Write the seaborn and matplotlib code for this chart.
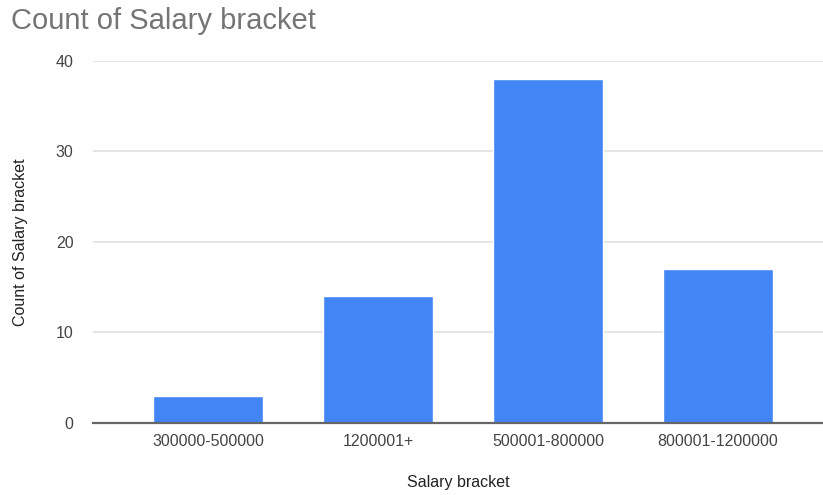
import matplotlib
matplotlib.use("Agg")
import matplotlib.pyplot as plt
import seaborn as sns
import pandas as pd

categories = ["300000-500000", "1200001+", "500001-800000", "800001-1200000"]
counts = [3, 14, 38, 17]
y_ticks = [0, 10, 20, 30, 40]

df = pd.DataFrame({"Salary bracket": categories, "Count": counts})

sns.set_theme(style="white")
plt.rcParams["font.family"] = ["Liberation Sans", "DejaVu Sans"]

fig = plt.figure(figsize=(8.23, 4.95), dpi=100)
ax = fig.add_axes([0.113, 0.1455, 0.887, 0.7313])

sns.barplot(data=df, x="Salary bracket", y="Count", color="#4285F4",
            saturation=1, width=0.647, ax=ax, zorder=3)

ax.set_ylim(0, 40)
ax.set_xlim(-0.676, 3.618)
ax.set_yticks(y_ticks)
ax.yaxis.grid(True, color="#e0e0e0", linewidth=1.2, zorder=0)
ax.xaxis.grid(False)
for s in ["top", "right", "left"]:
    ax.spines[s].set_visible(False)
ax.spines["bottom"].set_color("#666666")
ax.spines["bottom"].set_linewidth(1.6)
ax.spines["bottom"].set_zorder(4)
ax.tick_params(axis="both", length=0, labelsize=11.5, labelcolor="#444444")
ax.tick_params(axis="y", pad=14)
ax.tick_params(axis="x", pad=8)

ax.set_xlabel("Salary bracket", fontsize=11.5, color="#222222", labelpad=19)
ax.set_ylabel("Count of Salary bracket", fontsize=11.5, color="#222222", labelpad=20)

fig.text(0.013, 0.957, "Count of Salary bracket", fontsize=21, color="#757575",
         ha="left", va="center")

fig.savefig("out.png", dpi=100)
